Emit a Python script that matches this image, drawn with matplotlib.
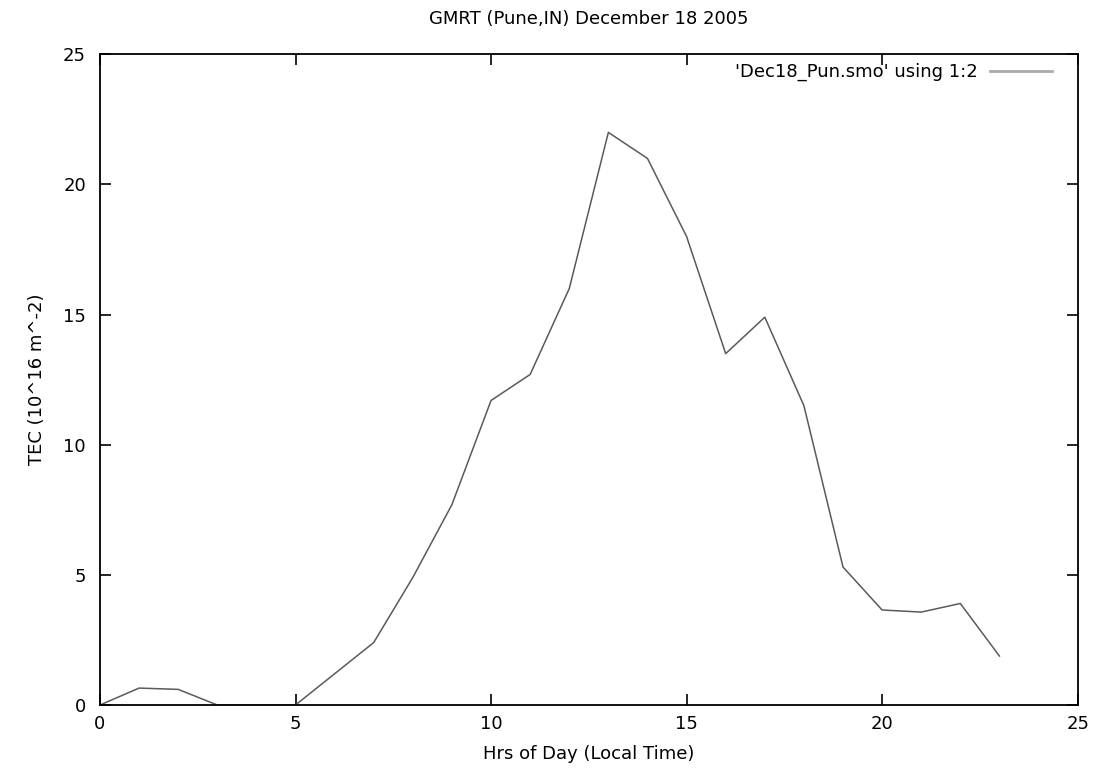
import numpy as np
import matplotlib
matplotlib.use("Agg")
import matplotlib.pyplot as plt
from matplotlib.lines import Line2D

# hourly TEC values
hours = [0, 1, 2, 3, 4, 5, 6, 7, 8, 9, 10, 11,
         12, 13, 14, 15, 16, 17, 18, 19, 20, 21, 22, 23]
tec = [0.0, 0.65, 0.6, 0.0, 0.0, 0.0, 1.2, 2.4, 4.9, 7.7, 11.7, 12.7,
       16.0, 22.0, 21.0, 18.0, 13.5, 14.9, 11.5, 5.3, 3.65, 3.57, 3.9, 1.88]
ticks = [0, 5, 10, 15, 20, 25]

plt.rcParams['font.family'] = ['DejaVu Sans']
fs = 13

fig = plt.figure(figsize=(11.01, 7.76), dpi=100)
ax = fig.add_axes([0.0908, 0.0915, 0.888, 0.8385])

ax.plot(hours, tec, color='#5a5a5a', lw=1.1)

ax.set_xlim(0, 25)
ax.set_ylim(0, 25)
ax.set_xticks(ticks)
ax.set_yticks(ticks)
ax.tick_params(direction='in', length=8, width=1.2, top=True, right=True,
               colors='black', labelsize=fs)
ax.tick_params(axis='x', pad=7)
ax.tick_params(axis='y', pad=10)
for s in ax.spines.values():
    s.set_linewidth(1.3)

ax.set_title("GMRT (Pune,IN) December 18 2005", fontsize=fs, pad=22)
ax.set_xlabel("Hrs of Day (Local Time)", fontsize=fs, labelpad=9)
ax.set_ylabel("TEC (10^16 m^-2)", fontsize=fs, labelpad=12)

handle = Line2D([], [], color='#aaaaaa', lw=2)
ax.legend([handle], ["'Dec18_Pun.smo' using 1:2"], loc='upper right',
          bbox_to_anchor=(0.981, 0.998), borderaxespad=0,
          frameon=False, markerfirst=False, handlelength=3.4,
          handletextpad=0.7, fontsize=fs)

fig.savefig("out.png", dpi=100)
